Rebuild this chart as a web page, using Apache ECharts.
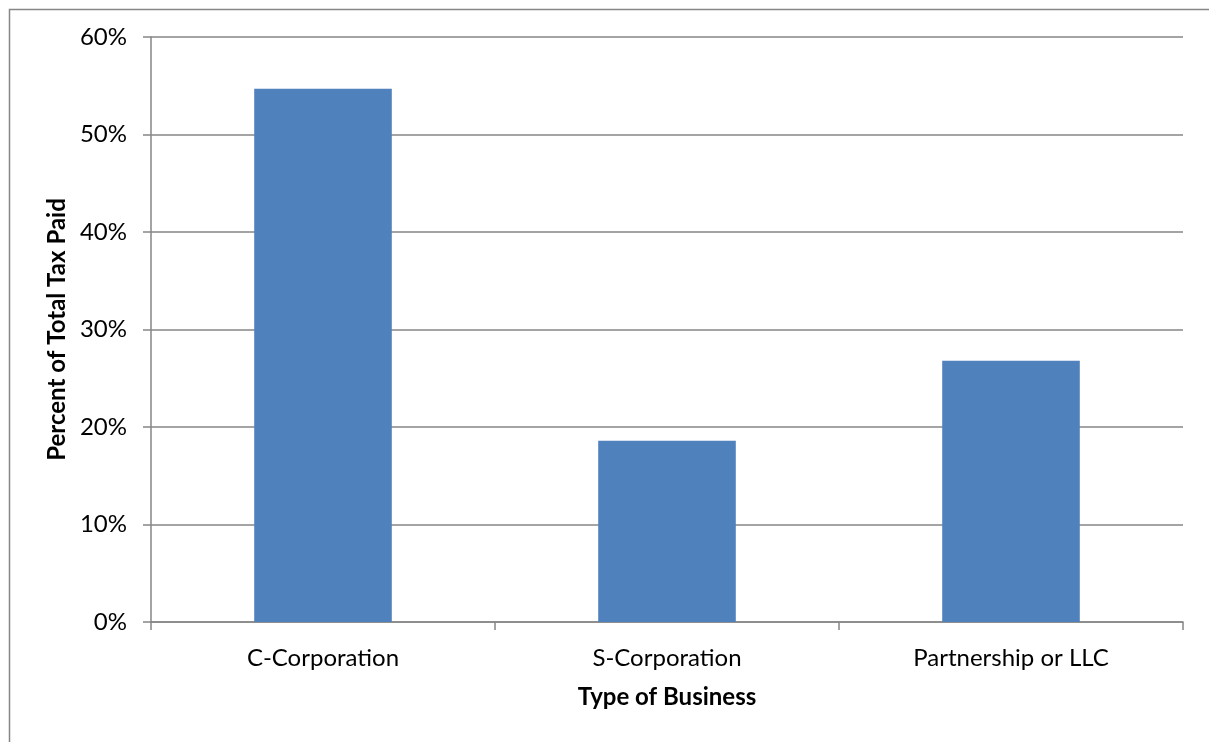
<!DOCTYPE html>
<html lang="en">

<head>
  <meta charset="utf-8">
  <title>Percent of Total Tax Paid by Type of Business</title>
  <style>
    * {
      margin: 0;
      padding: 0;
    }

    #chart-container {
      position: relative;
      width: 1209px;
      height: 742px;
      overflow: hidden;
      background: #fff;
    }
  </style>
</head>

<body>
  <div id="chart-container"></div>
  <script src="https://fastly.jsdelivr.net/npm/echarts@6/dist/echarts.min.js"></script>
  <script>
    var dom = document.getElementById('chart-container');
    var myChart = echarts.init(dom, null, {
      renderer: 'canvas',
      useDirtyRect: false
    });

    // data
    const businessTypes = ['C-Corporation', 'S-Corporation', 'Partnership or LLC'];
    const taxShare = [54.7, 18.6, 26.8];

    const font = 'Lato, "Open Sans", sans-serif';
    const gray = '#868686';

    var option = {
      animation: false,
      backgroundColor: '#fff',
      graphic: [
        {
          type: 'rect',
          left: 7,
          top: 7,
          shape: { width: 1220, height: 760 },
          style: { fill: 'none', stroke: gray, lineWidth: 1.5 }
        }
      ],
      grid: {
        left: 151,
        right: 26,
        top: 37,
        bottom: 120
      },
      xAxis: {
        type: 'category',
        data: businessTypes,
        name: 'Type of Business',
        nameLocation: 'middle',
        nameGap: 63,
        nameTextStyle: { fontFamily: font, fontSize: 24, fontWeight: 'bold', color: '#000' },
        axisLine: { lineStyle: { color: gray, width: 1.5 } },
        axisTick: { show: true, length: 8, lineStyle: { color: gray, width: 1.5 } },
        axisLabel: { fontFamily: font, fontSize: 24, color: '#000', margin: 24 }
      },
      yAxis: {
        type: 'value',
        min: 0,
        max: 60,
        interval: 10,
        name: 'Percent of Total Tax Paid',
        nameLocation: 'middle',
        nameGap: 82,
        nameTextStyle: { fontFamily: font, fontSize: 24, fontWeight: 'bold', color: '#000' },
        axisLine: { show: true, lineStyle: { color: gray, width: 1.5 } },
        axisTick: { show: true, length: 8, lineStyle: { color: gray, width: 1.5 } },
        axisLabel: { fontFamily: font, fontSize: 24, color: '#000', margin: 24, formatter: '{value}%' },
        splitLine: { lineStyle: { color: gray, width: 1.5 } }
      },
      series: [
        {
          type: 'bar',
          data: taxShare,
          barWidth: '40%',
          itemStyle: { color: '#4f81bd' }
        }
      ]
    };

    myChart.setOption(option);

    window.addEventListener('resize', myChart.resize);
  </script>
</body>

</html>
